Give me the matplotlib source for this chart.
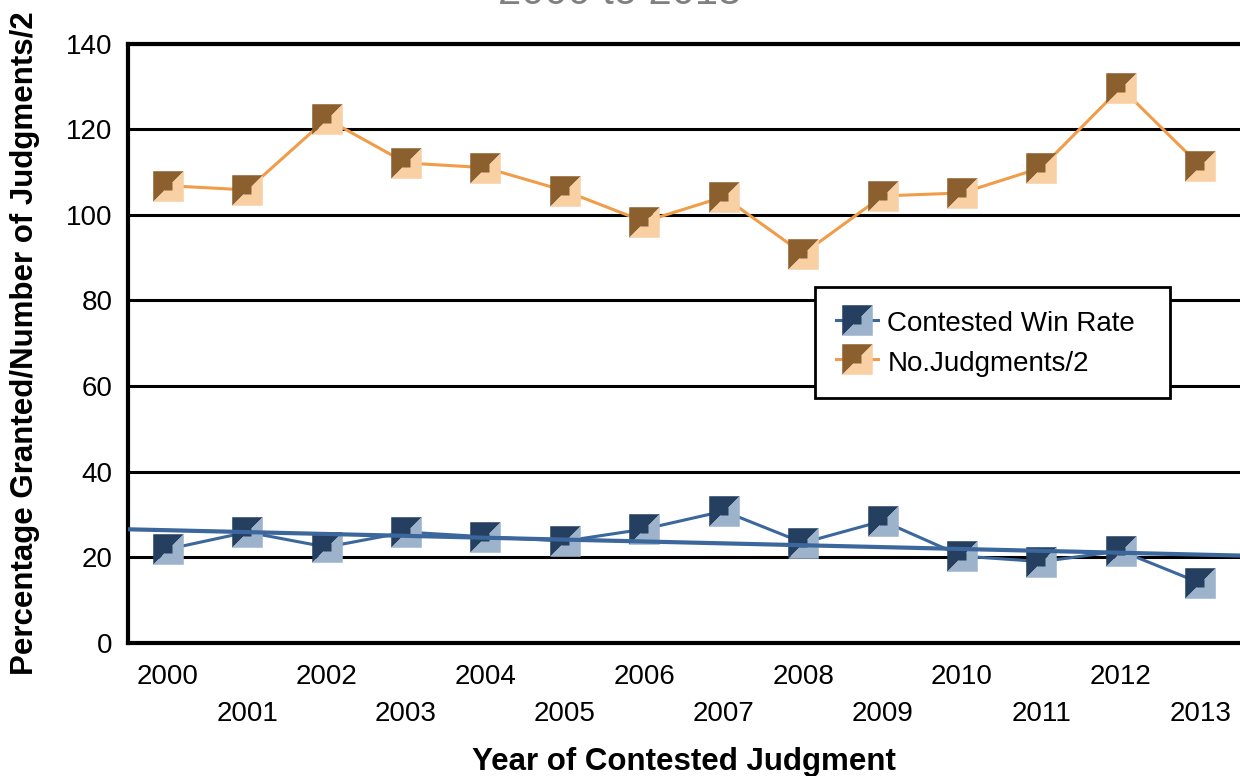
import matplotlib
matplotlib.use('Agg')
import matplotlib.pyplot as plt
import numpy as np

plt.rcParams['font.family'] = ['Liberation Sans', 'DejaVu Sans']

# data
years = ['2000', '2001', '2002', '2003', '2004', '2005', '2006',
         '2007', '2008', '2009', '2010', '2011', '2012', '2013']
win_rate = [21.9, 25.9, 22.4, 25.9, 24.8, 23.8, 26.6,
            30.8, 23.4, 28.5, 20.3, 19.0, 21.5, 14.0]
judgments_half = [106.8, 105.8, 122.4, 112.1, 111.0, 105.6, 98.4,
                  104.2, 90.9, 104.4, 105.1, 111.0, 129.7, 111.4]
y_ticks = [0, 20, 40, 60, 80, 100, 120, 140]

blue_line = '#3c679d'
blue_dark = '#243f60'
blue_light = '#9cb3cb'
orange_line = '#f09c48'
orange_dark = '#8b5f2e'
orange_light = '#f8d0a4'

# square marker split on the diagonal
upper_tri = [(-1, -1), (-1, 1), (1, 1), (-1, -1)]
lower_tri = [(-1, -1), (1, 1), (1, -1), (-1, -1)]

x = np.arange(len(years))

fig = plt.figure(figsize=(12.4, 7.76), dpi=100)
ax = fig.add_axes([128 / 1240, 1 - 643 / 776, 1 - 128 / 1240, (643 - 43.5) / 776])


def series(vals, line_c, dark_c, light_c):
    ln, = ax.plot(x, vals, color=line_c, lw=2.2, zorder=3)
    d, = ax.plot(x, vals, ls='none', marker=upper_tri, ms=22, mfc=dark_c,
                 mec='none', zorder=4)
    l, = ax.plot(x, vals, ls='none', marker=lower_tri, ms=22, mfc=light_c,
                 mec='none', zorder=4)
    c, = ax.plot(x, vals, ls='none', marker='s', ms=6, mfc=dark_c,
                 mec='none', zorder=5)
    return (ln, d, l, c)


h_blue = series(win_rate, blue_line, blue_dark, blue_light)
h_orange = series(judgments_half, orange_line, orange_dark, orange_light)

# linear trendline for win rate
k, b = np.polyfit(x, win_rate, 1)
xt = np.array([-0.5, 13.5])
ax.plot(xt, k * xt + b, color=blue_line, lw=3, zorder=6, solid_capstyle='butt')

ax.set_xlim(-0.5, 13.5)
ax.set_ylim(0, 140)
ax.set_yticks(y_ticks)
ax.set_yticklabels([str(v) for v in y_ticks])
ax.yaxis.grid(True, color='black', lw=2.2)
ax.set_axisbelow(True)

ax.set_xticks(x[::2])
ax.set_xticklabels(years[::2])
ax.set_xticks(x[1::2], minor=True)
ax.set_xticklabels(years[1::2], minor=True)
ax.tick_params(axis='x', which='major', length=0, pad=15, labelsize=20)
ax.tick_params(axis='x', which='minor', length=0, pad=42, labelsize=20)
ax.tick_params(axis='y', length=0, pad=11, labelsize=20)

for s in ['left', 'bottom', 'top']:
    ax.spines[s].set_linewidth(3)
    ax.spines[s].set_color('black')
ax.spines['right'].set_visible(False)

ax.set_xlabel('Year of Contested Judgment', fontsize=22.5, fontweight='bold',
              labelpad=14)
ax.set_ylabel('Percentage Granted/Number of Judgments/2', fontsize=22.5,
              fontweight='bold', labelpad=19)

leg = ax.legend([h_blue, h_orange], ['Contested Win Rate', 'No.Judgments/2'],
                loc='upper left', bbox_to_anchor=(0.618, 0.414, 0.319, 0.18),
                mode='expand', borderaxespad=0, fontsize=20, fancybox=False,
                edgecolor='black', framealpha=1, handlelength=1.5,
                handletextpad=0.35, handleheight=1.2, labelspacing=0.35,
                borderpad=0.75)
leg.get_frame().set_linewidth(2)
leg.set_zorder(10)

fig.text(0.5, 1 - 4.5 / 776, '2000 to 2013', ha='center', va='baseline',
         fontsize=30, color='#808080')

fig.savefig('out.png', dpi=100)
